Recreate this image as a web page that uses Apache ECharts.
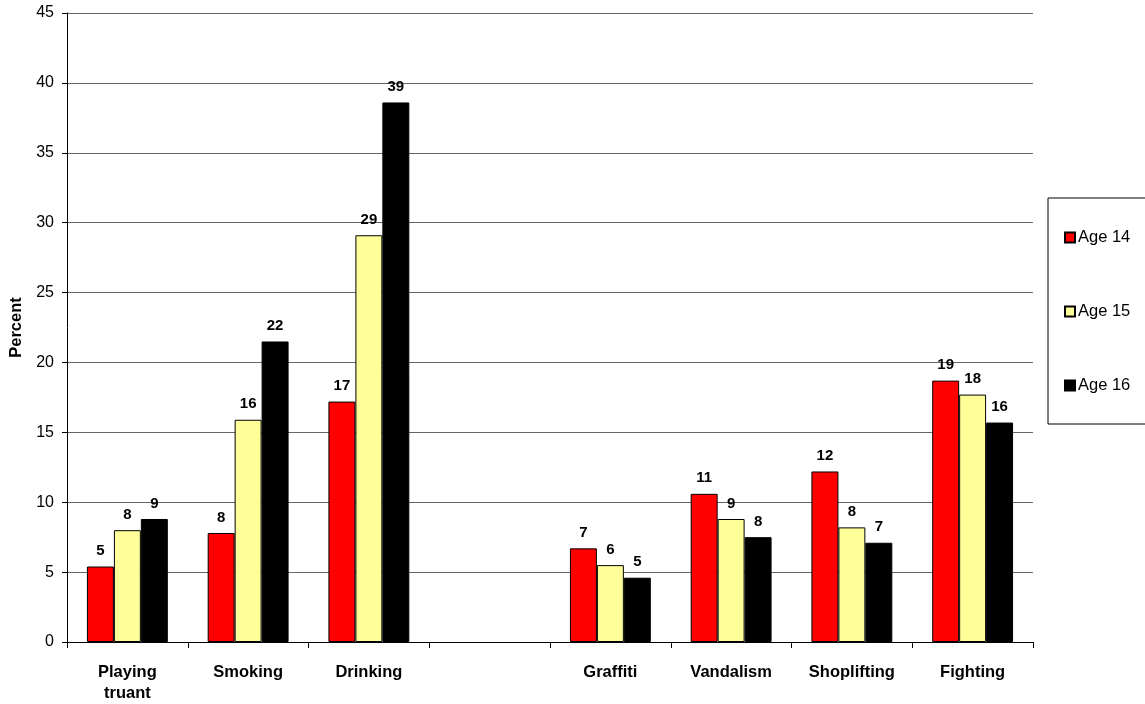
<!DOCTYPE html>
<html>
<head>
<meta charset="utf-8">
<script src="https://cdn.jsdelivr.net/npm/echarts@6/dist/echarts.min.js"></script>
<style>
  html, body { margin: 0; padding: 0; background: #fff; }
  #chart { width: 1145px; height: 704px; }
</style>
</head>
<body>
<div id="chart"></div>
<script>
// Behaviours by age group (percent); the blank slot separates the two groups
const categories = ['Playing\ntruant', 'Smoking', 'Drinking', '', 'Graffiti', 'Vandalism', 'Shoplifting', 'Fighting'];
const age14 = [5.4, 7.8, 17.2, null, 6.7, 10.6, 12.2, 18.7];
const age15 = [8.0, 15.9, 29.1, null, 5.5, 8.8, 8.2, 17.7];
const age16 = [8.8, 21.5, 38.6, null, 4.6, 7.5, 7.1, 15.7];
const seriesNames = ['Age 14', 'Age 15', 'Age 16'];
const seriesColors = ['#ff0000', '#ffff99', '#000000'];
const yTicks = [0, 5, 10, 15, 20, 25, 30, 35, 40, 45];

const FONT = '"Liberation Sans", Arial, sans-serif';

function barSeries(name, data, color) {
  return {
    name: name,
    type: 'bar',
    data: data,
    barGap: '0%',
    barCategoryGap: '33%',
    itemStyle: { color: color, borderColor: '#000', borderWidth: 1 },
    label: {
      show: true,
      position: 'top',
      distance: 8,
      fontFamily: FONT,
      fontWeight: 'bold',
      fontSize: 15,
      color: '#000',
      formatter: p => (p.value == null ? '' : String(Math.round(p.value)))
    }
  };
}

const chart = echarts.init(document.getElementById('chart'), null, { renderer: 'canvas' });
chart.setOption({
  animation: false,
  backgroundColor: '#fff',
  grid: { left: 67, top: 13, width: 966, height: 629, containLabel: false, outerBoundsMode: 'none' },
  legend: {
    orient: 'vertical',
    left: 1048,
    top: 198,
    padding: [31, 40, 30, 16],
    itemGap: 57,
    itemWidth: 10,
    itemHeight: 10,
    icon: 'rect',
    borderColor: '#000',
    borderWidth: 1,
    textStyle: { fontFamily: FONT, fontSize: 16.5, color: '#000', padding: [0, 0, 0, -2] },
    data: seriesNames
  },
  xAxis: {
    type: 'category',
    data: categories,
    axisLine: { lineStyle: { color: '#000', width: 1 } },
    axisTick: { show: true, length: 6, lineStyle: { color: '#000' }, alignWithLabel: false },
    axisLabel: {
      interval: 0,
      margin: 20,
      fontFamily: FONT,
      fontWeight: 'bold',
      fontSize: 16.5,
      color: '#000',
      lineHeight: 21
    }
  },
  yAxis: {
    type: 'value',
    min: yTicks[0],
    max: yTicks[yTicks.length - 1],
    interval: 5,
    name: 'Percent',
    nameLocation: 'middle',
    nameGap: 42,
    nameTextStyle: { fontFamily: FONT, fontWeight: 'bold', fontSize: 16.5, color: '#000' },
    axisLine: { show: true, lineStyle: { color: '#000', width: 1 } },
    axisTick: { show: true, length: 5, lineStyle: { color: '#000' } },
    axisLabel: { fontFamily: FONT, fontSize: 16, color: '#000', margin: 13 },
    splitLine: { show: true, lineStyle: { color: '#666', width: 1 } }
  },
  series: [
    barSeries(seriesNames[0], age14, seriesColors[0]),
    barSeries(seriesNames[1], age15, seriesColors[1]),
    barSeries(seriesNames[2], age16, seriesColors[2])
  ]
});
</script>
</body>
</html>
